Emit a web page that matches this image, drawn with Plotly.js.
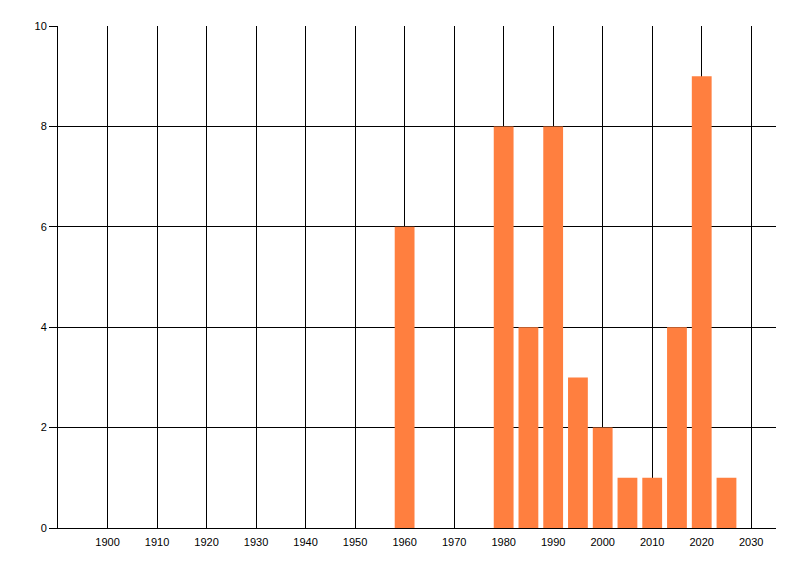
<!DOCTYPE html>
<html>
<head>
<meta charset="utf-8">
<script src="https://cdn.plot.ly/plotly-3.0.1.min.js"></script>
<style>
  html, body { margin: 0; padding: 0; background: #fff; }
  #chart { width: 800px; height: 576px; }
</style>
</head>
<body>
<div id="chart"></div>
<script>
// decade / half-decade buckets and their counts
const years = [1960, 1980, 1985, 1990, 1995, 2000, 2005, 2010, 2015, 2020, 2025];
const counts = [6, 8, 4, 8, 3, 2, 1, 1, 4, 9, 1];
const xTicks = [1900, 1910, 1920, 1930, 1940, 1950, 1960, 1970, 1980, 1990, 2000, 2010, 2020, 2030];
const yTicks = [0, 2, 4, 6, 8, 10];

const trace = {
  x: years,
  y: counts,
  type: 'bar',
  width: 4,
  marker: {color: '#ff7f3f', line: {width: 0}},
  hoverinfo: 'none'
};

const layout = {
  width: 800,
  height: 576,
  margin: {l: 58, r: 24, t: 26, b: 48},
  paper_bgcolor: '#fff',
  plot_bgcolor: '#fff',
  showlegend: false,
  font: {family: 'Liberation Sans, Arial, sans-serif', size: 11, color: '#000'},
  xaxis: {
    range: [1890, 2035],
    tickvals: xTicks,
    ticktext: xTicks.map(String),
    showgrid: true,
    gridcolor: '#000',
    gridwidth: 1,
    showline: true,
    linecolor: '#000',
    linewidth: 1,
    zeroline: false,
    ticks: 'outside',
    ticklen: 4,
    tickcolor: 'rgba(0,0,0,0)',
    fixedrange: true
  },
  yaxis: {
    range: [0, 10],
    tickvals: yTicks,
    showgrid: true,
    gridcolor: '#000',
    gridwidth: 1,
    showline: true,
    linecolor: '#000',
    linewidth: 1,
    zeroline: false,
    ticks: 'outside',
    ticklen: 8,
    tickcolor: '#000',
    tickwidth: 1,
    fixedrange: true
  }
};

Plotly.newPlot('chart', [trace], layout, {displayModeBar: false, staticPlot: true});
</script>
</body>
</html>
